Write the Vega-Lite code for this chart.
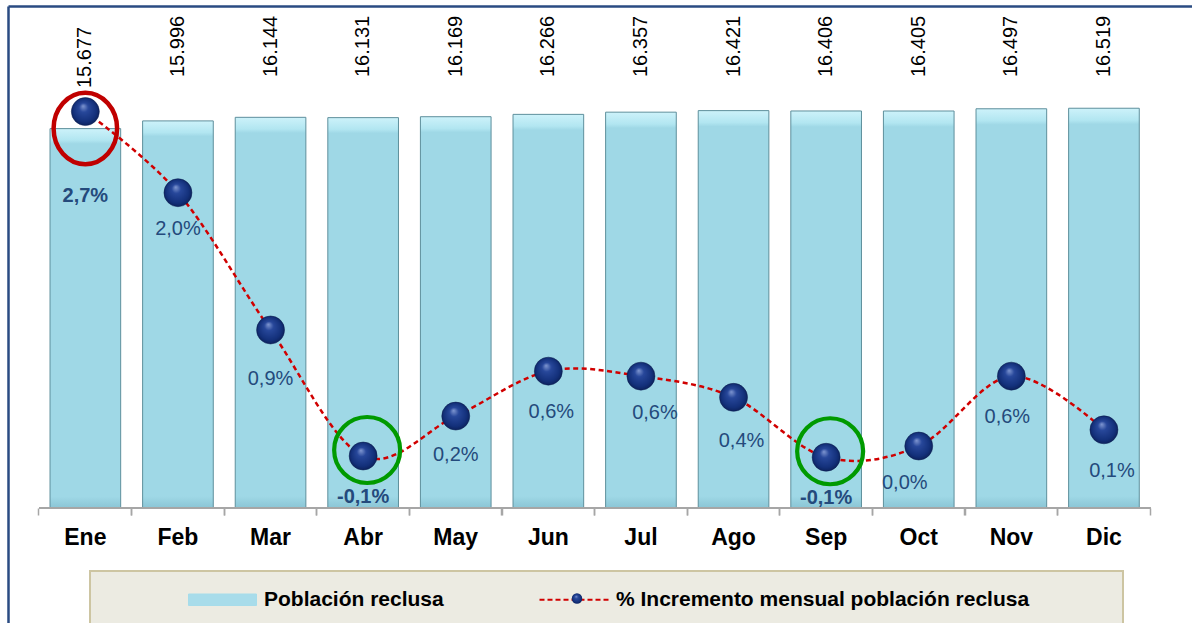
{
  "$schema": "https://vega.github.io/schema/vega-lite/v6.json",
  "autosize": {"type": "none"},
  "width": 1184,
  "height": 617,
  "padding": {"left": 8, "top": 6, "right": 0, "bottom": 0},
  "background": "white",
  "config": {
    "font": "Liberation Sans",
    "view": {"stroke": null},
    "locale": {"number": {"decimal": ",", "thousands": ".", "grouping": [3], "currency": ["", " €"], "minus": "-"}}
  },
  "data": {"values": [
    {"mes": "Ene", "poblacion": 15677, "incremento": 0.0268},
    {"mes": "Feb", "poblacion": 15996, "incremento": 0.0203},
    {"mes": "Mar", "poblacion": 16144, "incremento": 0.0093},
    {"mes": "Abr", "poblacion": 16131, "incremento": -0.0008},
    {"mes": "May", "poblacion": 16169, "incremento": 0.0024},
    {"mes": "Jun", "poblacion": 16266, "incremento": 0.0060},
    {"mes": "Jul", "poblacion": 16357, "incremento": 0.0056},
    {"mes": "Ago", "poblacion": 16421, "incremento": 0.0039},
    {"mes": "Sep", "poblacion": 16406, "incremento": -0.0009},
    {"mes": "Oct", "poblacion": 16405, "incremento": 0.0},
    {"mes": "Nov", "poblacion": 16497, "incremento": 0.0056},
    {"mes": "Dic", "poblacion": 16519, "incremento": 0.0013}
  ]},
  "resolve": {"scale": {"y": "independent"}, "axis": {"x": "independent", "y": "independent"}},
  "layer": [
    {
      "encoding": {
        "x": {
          "field": "mes", "type": "nominal", "sort": null,
          "scale": {"domain": ["Ene","Feb","Mar","Abr","May","Jun","Jul","Ago","Sep","Oct","Nov","Dic"], "paddingInner": 0.237, "paddingOuter": 0.5116, "align": 0.4435},
          "axis": {"orient": "bottom", "offset": -115, "domain": false, "ticks": true, "bandPosition": -0.156, "tickColor": "#a6a6a6", "tickSize": 7, "tickWidth": 1.5, "labelFont": "Liberation Sans", "labelFontSize": 23, "labelFontWeight": "bold", "labelColor": "#000000", "labelPadding": 11, "labelAngle": 0, "grid": false, "title": null}
        },
        "y": {
          "field": "poblacion", "type": "quantitative",
          "scale": {"domain": [-4752, 20744], "zero": false, "nice": false},
          "axis": {"orient": "left", "domain": true, "domainColor": "#2a4b82", "domainWidth": 2.5, "labels": false, "ticks": false, "grid": false, "title": null}
        }
      },
      "layer": [
        {
          "mark": {
            "type": "bar",
            "fill": {"gradient": "linear", "x1": 0, "y1": 0, "x2": 0, "y2": 1, "stops": [
              {"offset": 0, "color": "#cdf2fa"},
              {"offset": 0.03, "color": "#b2e6f1"},
              {"offset": 0.04, "color": "#9fd8e6"},
              {"offset": 0.97, "color": "#9fd8e6"},
              {"offset": 1, "color": "#8ac5d5"}
            ]},
            "stroke": "#5e8f9c",
            "strokeWidth": 1
          }
        },
        {
          "mark": {"type": "rule", "color": "#a6a6a6", "strokeWidth": 1.5, "xOffset": -11, "x2Offset": 11},
          "encoding": {
            "x": {"datum": "Ene", "bandPosition": 0},
            "x2": {"datum": "Dic", "bandPosition": 1},
            "y": {"datum": 0}
          }
        }
      ]
    },
    {
      "mark": {"type": "text", "angle": 270, "align": "left", "baseline": "middle", "font": "Liberation Sans", "fontSize": 20, "color": "#000000"},
      "encoding": {
        "x": {
          "field": "mes", "type": "nominal", "sort": null,
          "axis": {"orient": "bottom", "offset": -115, "domain": false, "ticks": true, "bandPosition": 1.156, "labels": false, "tickColor": "#a6a6a6", "tickSize": 7, "tickWidth": 1.5, "grid": false, "title": null}
        },
        "y": {"field": "poblacion", "type": "quantitative", "scale": {"domain": [15677, 15996], "range": [82, 71], "clamp": true, "zero": false, "nice": false}, "axis": null},
        "text": {"field": "poblacion", "type": "quantitative", "format": ",d"}
      }
    },
    {
      "encoding": {
        "x": {
          "field": "mes", "type": "nominal", "sort": null,
          "axis": {"orient": "top", "domain": true, "domainColor": "#2a4b82", "domainWidth": 2.5, "labels": false, "ticks": false, "grid": false, "title": null}
        },
        "y": {"field": "incremento", "type": "quantitative", "scale": {"domain": [-0.01418, 0.03526], "zero": false, "nice": false}, "axis": null}
      },
      "layer": [
        {
          "mark": {"type": "line", "interpolate": "cardinal", "strokeDash": [5, 3.5], "strokeWidth": 2.5},
          "encoding": {
            "color": {
              "datum": "% Incremento mensual población reclusa",
              "scale": {"domain": ["Población reclusa", "% Incremento mensual población reclusa"], "range": ["#a6dcea", "#d00000"]},
              "legend": {
                "orient": "none", "legendX": 82, "legendY": 565, "direction": "horizontal",
                "title": ".", "titleOrient": "right", "titleColor": "rgba(0,0,0,0)", "titleFontSize": 10, "titlePadding": 73,
                "fillColor": "#ecebe2", "strokeColor": "#cdc5a2", "padding": 18,
                "symbolOffset": 104, "labelOffset": 31, "columnPadding": 16,
                "labelFont": "Liberation Sans", "labelFontSize": 21, "labelFontWeight": "bold", "labelColor": "#000000", "labelLimit": 1000,
                "symbolSize": 100, "symbolStrokeWidth": 1,
                "encode": {
                  "legend": {"update": {"strokeWidth": {"value": 2}}},
                  "symbols": {"update": {
                    "shape": {"signal": "datum.value == 'Población reclusa' ? 'M-6.8,-1.15H6.8V1.15H-6.8Z' : 'M-7,0H7'"},
                    "fill": {"signal": "datum.value == 'Población reclusa' ? '#a8dcea' : 'transparent'"},
                    "stroke": {"signal": "datum.value == 'Población reclusa' ? '#5e8f9c' : '#d00000'"},
                    "strokeDash": {"signal": "datum.value == 'Población reclusa' ? [] : [5, 3]"},
                    "strokeWidth": {"signal": "datum.value == 'Población reclusa' ? 1 : 2.2"},
                    "size": {"value": 100},
                    "opacity": {"value": 1}
                  }}
                }
              }
            }
          }
        },
        {
          "transform": [{"filter": "datum.mes == 'Ene'"}],
          "mark": {"type": "point", "shape": "M1,0A1,1.126 0 1,1 -1,0A1,1.126 0 1,1 1,0Z", "size": 4032, "filled": false, "stroke": "#c00000", "strokeWidth": 4.5, "yOffset": 17, "opacity": 1}
        },
        {
          "transform": [{"filter": "datum.mes == 'Abr' || datum.mes == 'Sep'"}],
          "mark": {"type": "point", "shape": "circle", "size": 4356, "filled": false, "stroke": "#009a00", "strokeWidth": 4.2, "xOffset": 4, "yOffset": -6, "opacity": 1}
        },
        {
          "mark": {
            "type": "point", "filled": true, "size": 784, "opacity": 1, "stroke": "#0b1d50", "strokeWidth": 0.5,
            "fill": {"gradient": "radial", "x1": 0.42, "y1": 0.3, "r1": 0, "x2": 0.5, "y2": 0.5, "r2": 0.55, "stops": [
              {"offset": 0, "color": "#8198d2"},
              {"offset": 0.3, "color": "#27479a"},
              {"offset": 0.75, "color": "#13307a"},
              {"offset": 1, "color": "#0a1d52"}
            ]}
          },
          "encoding": {
            "shape": {
              "datum": "punto",
              "scale": {"range": ["circle"]},
              "legend": {
                "orient": "none", "legendX": 563.5, "legendY": 587, "title": null, "labelExpr": "''", "padding": 0,
                "symbolSize": 110, "symbolFillColor": "#14307a", "symbolStrokeColor": "#14307a", "symbolStrokeWidth": 0,
                "labelFontSize": 10, "symbolType": "circle",
                "encode": {"symbols": {"update": {"fill": {"value": "#14307a"}, "opacity": {"value": 1}}}}
              }
            }
          }
        },
        {
          "mark": {
            "type": "text", "baseline": "middle", "align": "center", "font": "Liberation Sans", "fontSize": 20, "color": "#244a7c",
            "fontWeight": {"expr": "indexof(['Ene','Abr','Sep'], datum.mes) >= 0 ? 'bold' : 'normal'"},
            "dx": {"expr": "datum.mes == 'Jul' ? 14 : datum.mes == 'Ago' ? 8 : datum.mes == 'Oct' ? -14 : datum.mes == 'Dic' ? 8 : datum.mes == 'Nov' ? -4 : datum.mes == 'Jun' ? 3 : 0"},
            "dy": {"expr": "datum.mes == 'Ene' ? 84 : datum.mes == 'Feb' ? 36 : datum.mes == 'Mar' ? 49 : datum.mes == 'Ago' ? 44 : datum.mes == 'Jul' || datum.mes == 'Oct' ? 37 : datum.mes == 'May' ? 39 : 41"}
          },
          "encoding": {"text": {"field": "incremento", "type": "quantitative", "format": ".1%"}}
        }
      ]
    }
  ]
}
